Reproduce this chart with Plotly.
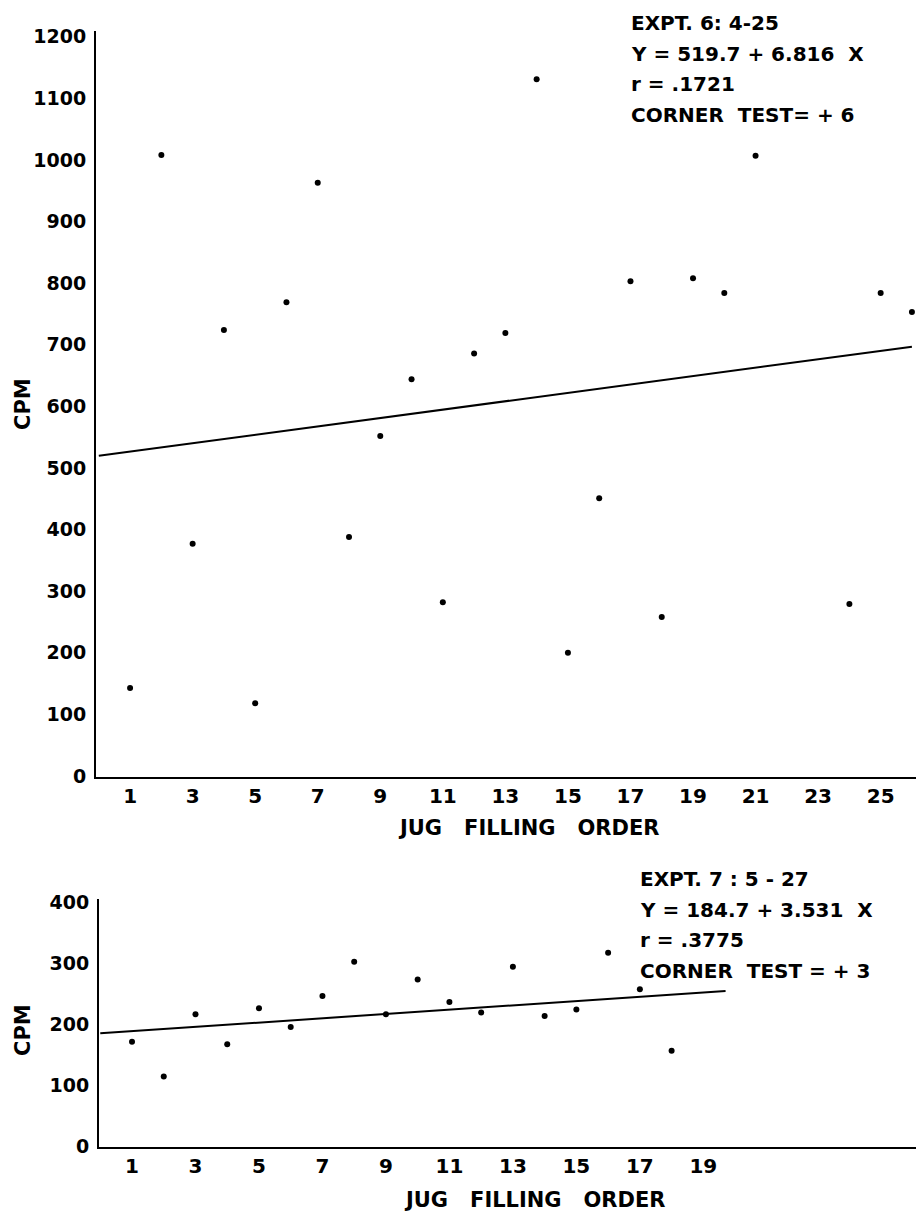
import plotly.graph_objects as go

# Experiment 6 (4-25): jug filling order vs counts per minute
exp6_order = [1, 2, 3, 4, 5, 6, 7, 8, 9, 10, 11, 12, 13, 14, 15, 16, 17, 18, 19, 20, 21, 24, 25, 26]
exp6_cpm = [143, 1008, 377, 724, 118, 769, 963, 388, 552, 644, 282, 686, 719, 1131,
            200, 451, 803, 258, 808, 784, 1007, 279, 784, 753]
exp6_intercept = 519.7
exp6_slope = 6.816
exp6_fit_x = [0, 26]

# Experiment 7 (5-27)
exp7_order = [1, 2, 3, 4, 5, 6, 7, 8, 9, 10, 11, 12, 13, 14, 15, 16, 17, 18]
exp7_cpm = [171, 114, 216, 167, 226, 195, 246, 302, 216, 273, 236, 219, 294, 213, 224, 317, 257, 156]
exp7_intercept = 184.7
exp7_slope = 3.531
exp7_fit_x = [0, 19.7]

top_xticks = list(range(1, 26, 2))
top_yticks = list(range(0, 1201, 100))
bottom_xticks = list(range(1, 20, 2))
bottom_yticks = list(range(0, 401, 100))

exp6_text = ["EXPT. 6: 4-25", "Y = 519.7 + 6.816  X", "r = .1721", "CORNER  TEST= + 6"]
exp7_text = ["EXPT. 7 : 5 - 27", "Y = 184.7 + 3.531  X", "r = .3775", "CORNER  TEST = + 3"]

W, H = 916, 1216
FONT = "DejaVu Sans"


def px_x(p):
    return p / W


def px_y(p):
    return 1 - p / H


fig = go.Figure()

dot = dict(color="black", size=6)
line_style = dict(color="black", width=2)

fig.add_trace(go.Scatter(x=exp6_order, y=exp6_cpm, mode="markers", marker=dot,
                         xaxis="x", yaxis="y", showlegend=False))
fig.add_trace(go.Scatter(x=exp6_fit_x, y=[exp6_intercept + exp6_slope * v for v in exp6_fit_x],
                         mode="lines", line=line_style, xaxis="x", yaxis="y", showlegend=False))
fig.add_trace(go.Scatter(x=exp7_order, y=exp7_cpm, mode="markers", marker=dot,
                         xaxis="x2", yaxis="y2", showlegend=False))
fig.add_trace(go.Scatter(x=exp7_fit_x, y=[exp7_intercept + exp7_slope * v for v in exp7_fit_x],
                         mode="lines", line=line_style, xaxis="x2", yaxis="y2", showlegend=False))

ytickfont = dict(family=FONT, size=19, color="black", weight="bold")
xtickfont = dict(family=FONT, size=20, color="black", weight="bold")
axis_common = dict(showline=True, linecolor="black", linewidth=2, showgrid=False,
                   zeroline=False, ticks="", automargin=False)

fig.update_layout(
    width=W, height=H,
    margin=dict(l=0, r=0, t=0, b=0),
    paper_bgcolor="white", plot_bgcolor="white",
    xaxis=dict(domain=[px_x(96), 1.0], range=[-0.09, 26.13], anchor="y", tickfont=xtickfont,
               tickvals=top_xticks, ticklabelstandoff=0, **axis_common),
    yaxis=dict(domain=[px_y(777.2), px_y(30.6)], range=[-2, 1210], anchor="x", tickfont=ytickfont,
               tickvals=top_yticks, ticklabelstandoff=4, **axis_common),
    xaxis2=dict(domain=[px_x(99), 1.0], range=[-0.04, 25.7], anchor="y2", tickfont=xtickfont,
                tickvals=bottom_xticks, ticklabelstandoff=0, **axis_common),
    yaxis2=dict(domain=[px_y(1147.2), px_y(899)], range=[-2, 405], anchor="x2", tickfont=ytickfont,
                tickvals=bottom_yticks, ticklabelstandoff=4, **axis_common),
)

annotations = []
label_font = dict(family=FONT, size=20, color="black", weight="bold")
for i, txt in enumerate(exp6_text):
    annotations.append(dict(text=txt, x=px_x(629), y=px_y(23 + i * 30.5), xref="paper", yref="paper",
                            xanchor="left", yanchor="middle", showarrow=False, font=label_font))
for i, txt in enumerate(exp7_text):
    annotations.append(dict(text=txt, x=px_x(638), y=px_y(879 + i * 30.5), xref="paper", yref="paper",
                            xanchor="left", yanchor="middle", showarrow=False, font=label_font))

title_font = dict(family=FONT, size=21, color="black", weight="bold")
annotations.append(dict(text="JUG   FILLING   ORDER", x=px_x(529), y=px_y(828), xref="paper", yref="paper",
                        xanchor="center", yanchor="middle", showarrow=False, font=title_font))
annotations.append(dict(text="JUG   FILLING   ORDER", x=px_x(535), y=px_y(1200), xref="paper", yref="paper",
                        xanchor="center", yanchor="middle", showarrow=False, font=title_font))
annotations.append(dict(text="CPM", x=px_x(23), y=px_y(404), xref="paper", yref="paper", textangle=-90,
                        xanchor="center", yanchor="middle", showarrow=False, font=title_font))
annotations.append(dict(text="CPM", x=px_x(23), y=px_y(1030), xref="paper", yref="paper", textangle=-90,
                        xanchor="center", yanchor="middle", showarrow=False, font=title_font))

fig.update_layout(annotations=annotations)

fig.write_html("out.html")
